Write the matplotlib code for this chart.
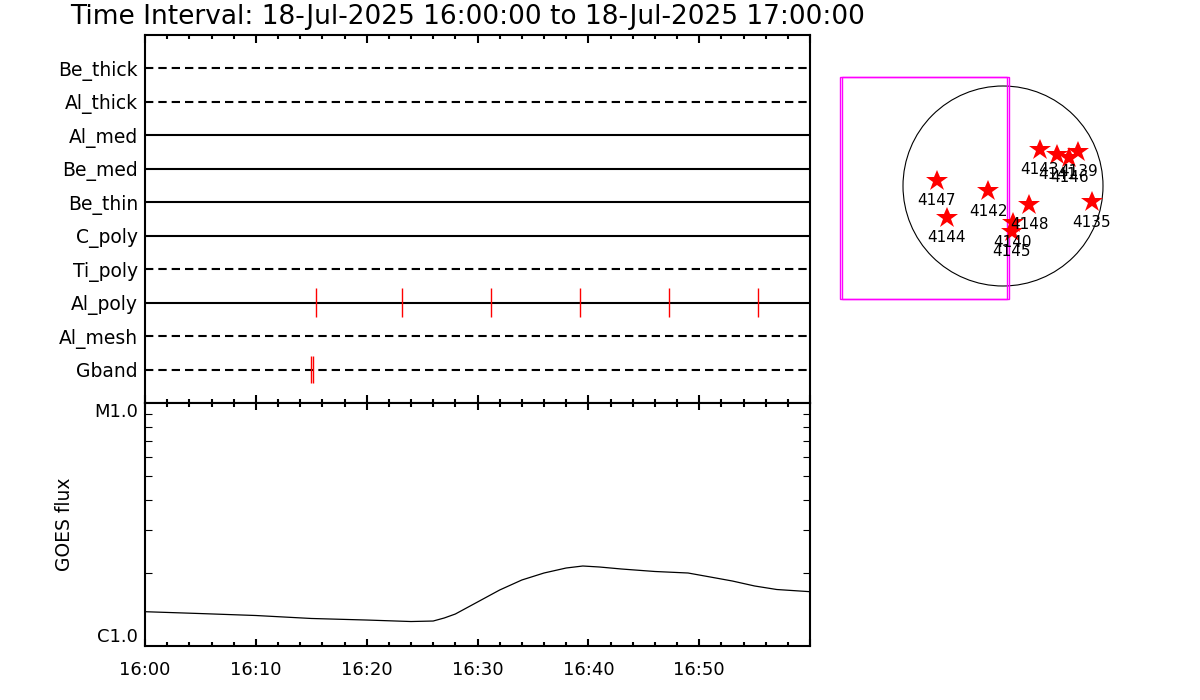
import matplotlib
matplotlib.use('Agg')
import matplotlib.pyplot as plt
from matplotlib.patches import Circle, Rectangle
from matplotlib.ticker import FixedLocator, NullFormatter

plt.rcParams['font.family'] = ['DejaVu Sans']

# ---------------- data ----------------
title = "Time Interval: 18-Jul-2025 16:00:00 to 18-Jul-2025 17:00:00"

filters = ["Be_thick", "Al_thick", "Al_med", "Be_med", "Be_thin",
           "C_poly", "Ti_poly", "Al_poly", "Al_mesh", "Gband"]
filter_dashed = [True, True, False, False, False, False, True, False, True, True]

# exposure times (minutes after 16:00)
alpoly_times = [15.43, 23.19, 31.22, 39.25, 47.28, 55.31]
gband_times = [14.95, 15.14]

time_ticks = [0, 10, 20, 30, 40, 50]
time_labels = ["16:00", "16:10", "16:20", "16:30", "16:40", "16:50"]

# GOES flux (W/m^2) vs minutes after 16:00
goes_minutes = [0, 5, 10, 15, 20, 24, 26, 27, 28, 30, 32, 34, 36, 38, 39.5,
                41, 43, 46, 49, 51, 53, 55, 57, 60]
goes_flux = [1.384e-6, 1.360e-6, 1.335e-6, 1.298e-6, 1.279e-6, 1.261e-6,
             1.267e-6, 1.304e-6, 1.354e-6, 1.517e-6, 1.700e-6, 1.869e-6,
             1.997e-6, 2.094e-6, 2.134e-6, 2.114e-6, 2.074e-6, 2.026e-6,
             1.997e-6, 1.923e-6, 1.851e-6, 1.766e-6, 1.708e-6, 1.673e-6]
goes_ticks = [1e-6, 1e-5]
goes_labels = ["C1.0", "M1.0"]

# active regions (arcsec)
ar_numbers = ["4147", "4144", "4142", "4148", "4140", "4145", "4135",
              "4143", "4141", "4146", "4139"]
ar_x = [-630, -535, -140, 250, 92, 83, 843, 352, 516, 630, 715]
ar_y = [50, -301, -48, -180, -349, -434, -155, 342, 295, 269, 326]

solar_radius = 950
fov_x0 = [-1548, -1529]
fov_x1 = [38, 57]
fov_y0 = [-1073, -1073]
fov_y1 = [1035, 1035]

# ---------------- figure ----------------
W, H = 1200, 700
fig = plt.figure(figsize=(12, 7), dpi=100)

def px_axes(x0, y0, x1, y1):
    return fig.add_axes([x0 / W, 1 - y1 / H, (x1 - x0) / W, (y1 - y0) / H])

fig.text(70 / W, 1 - 17 / H, title, ha='left', va='center', fontsize=19)

LW = 1.5

# ---- top panel: filter timeline ----
ax1 = px_axes(145, 35, 810, 403)
n = len(filters)
ypos = list(range(n, 0, -1))
for name, y, dashed in zip(filters, ypos, filter_dashed):
    if dashed:
        ax1.plot([0, 60], [y, y], color='black', lw=LW, ls=(0, (4, 2.4)))
    else:
        ax1.plot([0, 60], [y, y], color='black', lw=LW)
y_alpoly = ypos[filters.index("Al_poly")]
y_gband = ypos[filters.index("Gband")]
ax1.vlines(alpoly_times, y_alpoly - 0.43, y_alpoly + 0.43, color='red', lw=1)
ax1.vlines(gband_times, y_gband - 0.40, y_gband + 0.40, color='red', lw=1)

ax1.set_xlim(0, 60)
ax1.set_ylim(0, n + 1)
ax1.set_yticks(ypos)
ax1.set_yticklabels(filters, fontsize=13.5)
ax1.tick_params(axis='y', length=0, pad=5)
ax1.xaxis.set_major_locator(FixedLocator(time_ticks + [60]))
ax1.xaxis.set_minor_locator(FixedLocator([m for m in range(0, 61, 2) if m % 10]))
ax1.xaxis.set_major_formatter(NullFormatter())
ax1.tick_params(axis='x', which='major', direction='in', top=True, bottom=True,
                length=6, width=LW)
ax1.tick_params(axis='x', which='minor', direction='in', top=True, bottom=True,
                length=3, width=LW)
for s in ax1.spines.values():
    s.set_linewidth(LW)

# ---- bottom panel: GOES ----
ax2 = px_axes(145, 403, 810, 646)
ax2.plot(goes_minutes, goes_flux, color='black', lw=0.9)
ax2.set_yscale('log')
ax2.set_xlim(0, 60)
ax2.set_ylim(1e-6, 1e-5)
ax2.yaxis.set_major_locator(FixedLocator(goes_ticks))
ylabs = ax2.set_yticklabels(goes_labels, fontsize=13)
ylabs[0].set_va('bottom')
ylabs[1].set_va('top')
ax2.yaxis.set_minor_locator(FixedLocator([k * 1e-6 for k in range(2, 10)]))
ax2.yaxis.set_minor_formatter(NullFormatter())
ax2.tick_params(axis='y', which='major', length=0, pad=5)
ax2.tick_params(axis='y', which='minor', direction='in', left=True, right=True,
                length=5, width=0.8)
ax2.set_xticks(time_ticks + [60])
ax2.set_xticklabels(time_labels + [""], fontsize=13)
ax2.xaxis.set_minor_locator(FixedLocator([m for m in range(0, 61, 2) if m % 10]))
ax2.tick_params(axis='x', which='major', direction='in', top=True, bottom=True,
                length=5, width=LW, pad=11)
ax2.tick_params(axis='x', which='minor', direction='in', top=True, bottom=True,
                length=3, width=LW)
for s in ax2.spines.values():
    s.set_linewidth(LW)
ax2.set_ylabel("GOES flux", fontsize=13.5)
ax2.yaxis.set_label_coords(-0.107, 0.5)

# ---- right panel: solar disk ----
ax3 = px_axes(830, 60, 1130, 320)
ax3.set_xlim((830 - 1003) * 9.5, (1130 - 1003) * 9.5)
ax3.set_ylim((186 - 320) * 9.5, (186 - 60) * 9.5)
ax3.axis('off')
ax3.add_patch(Circle((0, 0), solar_radius, fill=False, ec='black', lw=0.8))
for x0, x1, y0, y1 in zip(fov_x0, fov_x1, fov_y0, fov_y1):
    ax3.add_patch(Rectangle((x0, y0), x1 - x0, y1 - y0, fill=False,
                            ec='#ff00ff', lw=1.0))
ax3.plot(ar_x, ar_y, ls='none', marker='*', color='red', ms=16.5, mew=0)
for name, x, y in zip(ar_numbers, ar_x, ar_y):
    ax3.annotate(name, (x, y), xytext=(0, -14.4), textcoords='offset points',
                 ha='center', va='center', fontsize=11)

fig.savefig('out.png', dpi=100)
